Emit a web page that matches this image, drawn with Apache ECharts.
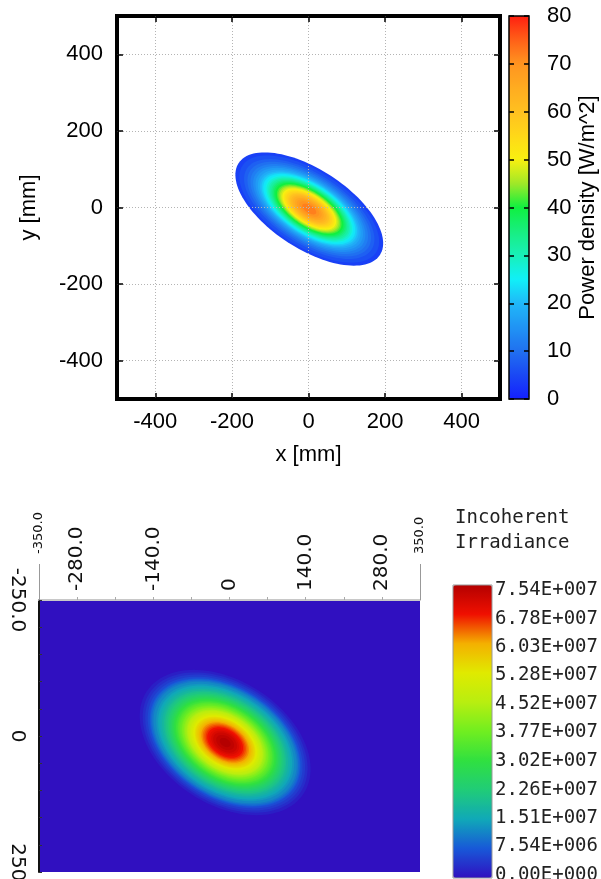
<!DOCTYPE html>
<html>
<head>
<meta charset="utf-8">
<title>Irradiance maps</title>
<script src="https://cdn.jsdelivr.net/npm/echarts@6/dist/echarts.min.js"></script>
<style>
  html, body { margin: 0; padding: 0; background: #fff; }
  #chart { width: 601px; height: 879px; }
</style>
</head>
<body>
<div id="chart"></div>
<script>
// ---- upper map: power density [W/m^2] ----
var topTicks = [-400, -200, 0, 200, 400];
var topCenter = [2, -4];      // beam centre, mm
var topTilt = 33;             // major axis, degrees below +x
var topAspect = 0.47;         // minor / major
// one ring per value, drawn out to its semi-major axis (mm)
var topBandValue = [4, 6, 8, 10, 12, 14, 16, 18, 20, 22, 24, 26, 28, 30, 32, 34, 36, 38, 40,
  42, 44, 46, 48, 50, 52, 54, 56, 58, 60, 62, 64, 66, 68, 70, 72];
var topBandSemiMajor = [220, 208, 194, 184, 175, 167, 160, 153, 147, 142, 137, 131, 127, 122, 118,
  113, 109, 105, 101, 96, 92, 88, 84, 80, 76, 72, 68, 63, 59, 54, 49, 43, 37, 30, 21];
var topPalette = ['#1420ff', '#1a48f4', '#2070f0', '#2094f4', '#20b8f8', '#10f0f8', '#18f0b8', '#18ee80',
  '#10f040', '#a0e828', '#f8f010', '#ffd818', '#ffc020', '#ffac20', '#ff9420', '#ff6018', '#ff2010'];

// ---- lower map: incoherent irradiance ----
var botLabelTicks = [-280, -140, 0, 140, 280];
var botMinorTicks = [-350, -280, -210, -140, -70, 0, 70, 140, 210, 280, 350];
var botEndTicks = [-350, 350];
var botYLabelTicks = [-250, 0, 250];
var botYMinorTicks = [-250, -200, -150, -100, -50, 0, 50, 100, 150, 200, 250];
var botCenter = [-8, 12];
var botTilt = 33;
var botAspect = 0.66;
var botPeak = 7.54e7;
// ring level as a fraction of the peak, and how far it reaches along the major axis (mm)
var botBandFraction = [0.02, 0.04, 0.06, 0.08, 0.10, 0.12, 0.14, 0.16, 0.18, 0.20,
  0.22, 0.24, 0.26, 0.28, 0.30, 0.32, 0.34, 0.36, 0.38, 0.40,
  0.42, 0.44, 0.46, 0.48, 0.50, 0.52, 0.54, 0.56, 0.58, 0.60,
  0.62, 0.64, 0.66, 0.68, 0.70, 0.72, 0.74, 0.76, 0.78, 0.80,
  0.82, 0.84, 0.86, 0.88, 0.90, 0.92, 0.94, 0.96, 0.98, 1.00];
var botBandSemiMajor = [172, 166, 161, 156, 152, 150, 147, 144, 139, 135,
  131, 127, 123, 120, 116, 113, 110, 107, 104, 102,
  99, 96, 94, 91, 88, 86, 83, 81, 78, 76,
  74, 71, 69, 66, 64, 61, 59, 56, 53, 51,
  48, 45, 42, 39, 36, 32, 28, 24, 18, 11];
var botLegendValues = [0, 7.54e6, 1.51e7, 2.26e7, 3.02e7, 3.77e7, 4.52e7, 5.28e7, 6.03e7, 6.78e7, 7.54e7];
var botLegendLabels = ['0.00E+000', '7.54E+006', '1.51E+007', '2.26E+007', '3.02E+007', '3.77E+007',
  '4.52E+007', '5.28E+007', '6.03E+007', '6.78E+007', '7.54E+007'];
var botPalette = ['#3010c0', '#1858d8', '#10a8b8', '#20cc78', '#30e040', '#70ee20',
  '#b8ee10', '#e0ea00', '#f4b000', '#f01000', '#b40000'];

var chart = echarts.init(document.getElementById('chart'));

function bandData(center, values, semi) {
  return values.map(function (v, i) { return [center[0], center[1], v, semi[i]]; });
}

// ellipse ring through the axes' own scales
function ellipseRenderer(tiltDeg, aspect, yDown) {
  var t = tiltDeg * Math.PI / 180;
  var ux = Math.cos(t), uy = yDown ? Math.sin(t) : -Math.sin(t);
  return function (params, api) {
    var cx = api.value(0), cy = api.value(1), a = api.value(3), b = a * aspect;
    var pts = [];
    for (var k = 0; k < 120; k++) {
      var s = 2 * Math.PI * k / 120;
      var ca = a * Math.cos(s), sb = b * Math.sin(s);
      pts.push(api.coord([cx + ca * ux - sb * uy, cy + ca * uy + sb * ux]));
    }
    return { type: 'polygon', shape: { points: pts }, style: { fill: api.visual('color') } };
  };
}

function zemaxTick(v) { return v === 0 ? '0' : v.toFixed(1); }

var sans = 'Liberation Sans';
var dv = 'DejaVu Sans';
var mono = 'DejaVu Sans Mono';
var blackTick = { customValues: topTicks, inside: true, length: 6, lineStyle: { color: '#000', width: 1.5 } };

var option = {
  animation: false,
  backgroundColor: '#fff',
  title: {
    text: 'Incoherent\nIrradiance',
    left: 455, top: 506, padding: 0,
    textStyle: { fontFamily: mono, fontSize: 19, fontWeight: 'normal', color: '#222', lineHeight: 25 }
  },
  grid: [
    { left: 117, top: 16, width: 383, height: 383, show: true, borderColor: '#000', borderWidth: 4,
      backgroundColor: 'transparent', outerBoundsMode: 'none' },
    { left: 509, top: 16, width: 20, height: 383, show: true, borderColor: '#000', borderWidth: 1.5,
      backgroundColor: 'transparent', z: 5, outerBoundsMode: 'none' },
    { left: 39, top: 600, width: 381, height: 272, show: true, borderWidth: 0,
      backgroundColor: '#3010c0', outerBoundsMode: 'none' },
    { left: 453, top: 585, width: 39, height: 293, show: true, borderColor: '#999', borderWidth: 1,
      backgroundColor: 'transparent', z: 5, outerBoundsMode: 'none' },
    { left: 453, top: 590, width: 39, height: 285, show: false, outerBoundsMode: 'none' }
  ],
  xAxis: [
    { gridIndex: 0, type: 'value', position: 'bottom', min: -500, max: 500, z: 3,
      axisLine: { show: false, onZero: false },
      axisTick: blackTick,
      axisLabel: { customValues: topTicks, margin: 12, fontFamily: sans, fontSize: 22, color: '#000' },
      splitLine: { show: true, lineStyle: { color: '#b4b4b4', type: [1, 2], width: 1 } },
      name: 'x [mm]', nameLocation: 'middle', nameGap: 45,
      nameTextStyle: { fontFamily: sans, fontSize: 22, color: '#000' } },
    { gridIndex: 0, type: 'value', position: 'top', min: -500, max: 500, z: 3,
      axisLine: { show: false, onZero: false },
      axisTick: blackTick,
      axisLabel: { show: false }, splitLine: { show: false } },
    { gridIndex: 1, type: 'value', show: false, axisLine: { onZero: false } },
    { gridIndex: 2, type: 'value', position: 'top', min: -350, max: 350, z: 3,
      axisLine: { show: true, onZero: false, lineStyle: { color: '#c8c8c8', width: 2 } },
      axisTick: { customValues: botMinorTicks, length: 3, lineStyle: { color: '#aaa' } },
      axisLabel: { customValues: botLabelTicks, rotate: -90, margin: 9, formatter: zemaxTick,
        fontFamily: dv, fontSize: 20, color: '#111' },
      splitLine: { show: false } },
    { gridIndex: 2, type: 'value', position: 'top', min: -350, max: 350, z: 3,
      axisLine: { show: false, onZero: false },
      axisTick: { customValues: botEndTicks, length: 36, lineStyle: { color: '#999' } },
      axisLabel: { customValues: botEndTicks, rotate: -90, margin: 46, formatter: zemaxTick,
        fontFamily: dv, fontSize: 13, color: '#111' },
      splitLine: { show: false } },
    { gridIndex: 3, type: 'value', show: false, axisLine: { onZero: false } },
    { gridIndex: 4, type: 'value', show: false, axisLine: { onZero: false } }
  ],
  yAxis: [
    { gridIndex: 0, type: 'value', position: 'left', min: -500, max: 500, z: 3,
      axisLine: { show: false, onZero: false },
      axisTick: blackTick,
      axisLabel: { customValues: topTicks, margin: 14, fontFamily: sans, fontSize: 22, color: '#000' },
      splitLine: { show: true, lineStyle: { color: '#b4b4b4', type: [1, 2], width: 1 } },
      name: 'y [mm]', nameLocation: 'middle', nameGap: 77, nameRotate: 90,
      nameTextStyle: { fontFamily: sans, fontSize: 22, color: '#000' } },
    { gridIndex: 0, type: 'value', position: 'right', min: -500, max: 500, z: 3,
      axisLine: { show: false, onZero: false },
      axisTick: blackTick,
      axisLabel: { show: false }, splitLine: { show: false } },
    { gridIndex: 1, type: 'value', position: 'right', min: 0, max: 80, interval: 10, z: 6,
      axisLine: { show: false, onZero: false },
      axisTick: { inside: true, length: 5, lineStyle: { color: '#000', width: 1.5 } },
      axisLabel: { margin: 18, fontFamily: sans, fontSize: 22, color: '#000' },
      splitLine: { show: false },
      name: 'Power density [W/m^2]', nameLocation: 'middle', nameGap: 48, nameRotate: 90,
      nameTextStyle: { fontFamily: sans, fontSize: 22, color: '#000' } },
    { gridIndex: 1, type: 'value', position: 'left', min: 0, max: 80, interval: 10, z: 6,
      axisLine: { show: false, onZero: false },
      axisTick: { inside: true, length: 5, lineStyle: { color: '#000', width: 1.5 } },
      axisLabel: { show: false }, splitLine: { show: false } },
    { gridIndex: 2, type: 'value', position: 'left', inverse: true, min: -250, max: 250, z: 3,
      axisLine: { show: true, onZero: false, lineStyle: { color: '#111', width: 2 } },
      axisTick: { customValues: botYMinorTicks, inside: true, length: 3, lineStyle: { color: '#333' } },
      axisLabel: { customValues: botYLabelTicks, rotate: -90, margin: 12, formatter: zemaxTick,
        fontFamily: dv, fontSize: 20, color: '#111' },
      splitLine: { show: false } },
    { gridIndex: 3, type: 'value', show: false, axisLine: { onZero: false } },
    { gridIndex: 4, type: 'value', position: 'right', min: 0, max: botPeak,
      axisLine: { show: false, onZero: false }, axisTick: { show: false }, splitLine: { show: false },
      axisLabel: { customValues: botLegendValues, margin: 3, fontFamily: mono, fontSize: 19, color: '#222',
        formatter: function (v) {
          var best = 0;
          for (var i = 1; i < botLegendValues.length; i++) {
            if (Math.abs(botLegendValues[i] - v) < Math.abs(botLegendValues[best] - v)) best = i;
          }
          return botLegendLabels[best];
        } } }
  ],
  visualMap: [
    { type: 'continuous', seriesIndex: 0, dimension: 2, min: 0, max: 80,
      left: 509, top: 16, itemWidth: 20, itemHeight: 383, padding: 0,
      calculable: false, hoverLink: false, inRange: { color: topPalette } },
    { type: 'continuous', seriesIndex: 1, dimension: 2, min: 0, max: botPeak,
      left: 453, top: 585, itemWidth: 39, itemHeight: 293, padding: 0,
      calculable: false, hoverLink: false, inRange: { color: botPalette } }
  ],
  series: [
    { type: 'custom', xAxisIndex: 0, yAxisIndex: 0, z: 1, silent: true,
      encode: { x: 0, y: 1 },
      renderItem: ellipseRenderer(topTilt, topAspect, false),
      data: bandData(topCenter, topBandValue, topBandSemiMajor) },
    { type: 'custom', xAxisIndex: 3, yAxisIndex: 4, z: 1, silent: true,
      encode: { x: 0, y: 1 },
      renderItem: ellipseRenderer(botTilt, botAspect, true),
      data: bandData(botCenter, botBandFraction.map(function (f) { return f * botPeak; }), botBandSemiMajor) }
  ]
};

chart.setOption(option);
</script>
</body>
</html>
